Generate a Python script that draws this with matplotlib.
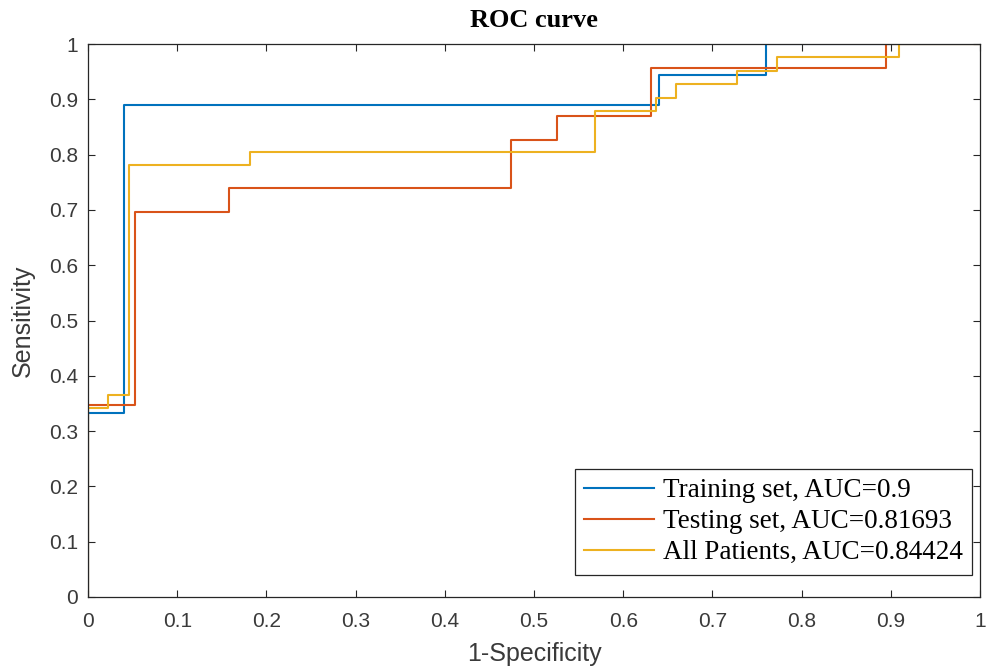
import matplotlib.pyplot as plt

# ROC step points (1-specificity, sensitivity)
train_fpr = [0, 0, 1/25, 1/25, 16/25, 16/25, 19/25, 19/25, 1]
train_tpr = [0, 6/18, 6/18, 16/18, 16/18, 17/18, 17/18, 1, 1]

test_fpr = [0, 0, 1/19, 1/19, 3/19, 3/19, 9/19, 9/19, 10/19, 10/19, 12/19, 12/19, 17/19, 17/19, 1]
test_tpr = [0, 8/23, 8/23, 16/23, 16/23, 17/23, 17/23, 19/23, 19/23, 20/23, 20/23, 22/23, 22/23, 1, 1]

all_fpr = [0, 0, 1/44, 1/44, 2/44, 2/44, 8/44, 8/44, 25/44, 25/44, 28/44, 28/44,
           29/44, 29/44, 32/44, 32/44, 34/44, 34/44, 40/44, 40/44, 1]
all_tpr = [0, 14/41, 14/41, 15/41, 15/41, 32/41, 32/41, 33/41, 33/41, 36/41, 36/41, 37/41,
           37/41, 38/41, 38/41, 39/41, 39/41, 40/41, 40/41, 1, 1]

labels = ['Training set, AUC=0.9', 'Testing set, AUC=0.81693', 'All Patients, AUC=0.84424']
colors = ['#0072BD', '#D95319', '#EDB120']

plt.rcParams['font.family'] = 'Liberation Sans'

fig = plt.figure(figsize=(9.9, 6.72), dpi=100)
ax = fig.add_axes([88/990, 1 - 597/672, 892/990, 553/672])

ax.plot(train_fpr, train_tpr, color=colors[0], lw=1.5, label=labels[0])
ax.plot(test_fpr, test_tpr, color=colors[1], lw=1.5, label=labels[1])
ax.plot(all_fpr, all_tpr, color=colors[2], lw=1.5, label=labels[2])

ax.set_xlim(0, 1)
ax.set_ylim(0, 1)
ticks = [0, 0.1, 0.2, 0.3, 0.4, 0.5, 0.6, 0.7, 0.8, 0.9, 1]
tick_labels = ['0', '0.1', '0.2', '0.3', '0.4', '0.5', '0.6', '0.7', '0.8', '0.9', '1']
ax.set_xticks(ticks, tick_labels)
ax.set_yticks(ticks, tick_labels)
ax.tick_params(direction='in', length=5, width=0.8, top=True, right=True,
               labelsize=15, colors='#262626', labelcolor='#3a3a3a')
ax.tick_params(axis='x', pad=11)
ax.tick_params(axis='y', pad=7)
for s in ax.spines.values():
    s.set_color('#262626')
    s.set_linewidth(0.9)

ax.set_xlabel('1-Specificity', fontsize=18, color='#3a3a3a', labelpad=8)
ax.set_ylabel('Sensitivity', fontsize=18, color='#3a3a3a', labelpad=10)
ax.set_title('ROC curve', fontsize=19, fontweight='bold', family='Liberation Serif', pad=12)

leg = ax.legend(loc='lower right', bbox_to_anchor=(0.991, 0.040),
                prop={'family': 'Liberation Serif', 'size': 19.5},
                fancybox=False, edgecolor='#262626', framealpha=1,
                handlelength=2.6, handletextpad=0.3, borderpad=0.35,
                borderaxespad=0, labelspacing=0.22)
leg.get_frame().set_linewidth(0.9)

plt.savefig('out.png')
